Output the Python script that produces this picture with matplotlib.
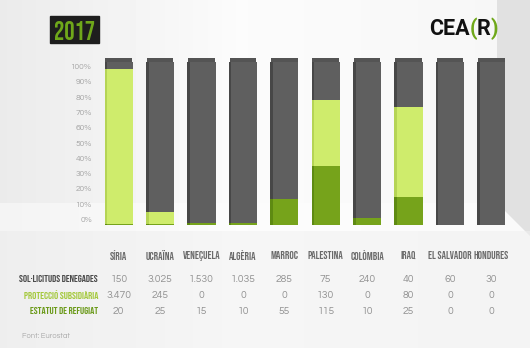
import matplotlib.pyplot as plt
import numpy as np
from matplotlib.transforms import blended_transform_factory
from matplotlib.patches import Rectangle, Polygon

countries = ['SÍRIA', 'UCRAÏNA', 'VENEÇUELA', 'ALGÈRIA', 'MARROC',
             'PALESTINA', 'COLÒMBIA', 'IRAQ', 'EL SALVADOR', 'HONDURES']
denegades = [150, 3025, 1530, 1035, 285, 75, 240, 40, 60, 30]
subsidiaria = [3470, 245, 0, 0, 0, 130, 0, 80, 0, 0]
refugiat = [20, 25, 15, 10, 55, 115, 10, 25, 0, 0]
row_labels = ['SOL·LICITUDS DENEGADES', 'PROTECCIÓ SUBSIDIÀRIA', 'ESTATUT DE REFUGIAT']
pct_ticks = [0, 10, 20, 30, 40, 50, 60, 70, 80, 90, 100]

cond = ['Bebas Neue', 'DejaVu Sans']
thin = ['Questrial', 'DejaVu Sans']
logo = ['Roboto', 'DejaVu Sans']

def fmt(v):
    return f'{v:,}'.replace(',', '.')

den = np.array(denegades, float)
sub = np.array(subsidiaria, float)
ref = np.array(refugiat, float)
tot = den + sub + ref
f_ref, f_sub, f_den = ref / tot, sub / tot, den / tot

fig = plt.figure(figsize=(5.3, 3.48), dpi=100)

# background in pixel coordinates
bg = fig.add_axes([0, 0, 1, 1])
bg.set_xlim(0, 530)
bg.set_ylim(348, 0)
bg.axis('off')
grad = np.interp(np.linspace(0, 1, 530), [0, 0.45, 1], [0.92, 0.985, 0.965])
bg.imshow(np.tile(grad, (348, 1)), cmap='gray', vmin=0, vmax=1,
          extent=[0, 530, 348, 0], aspect='auto', zorder=0)
bg.add_patch(Rectangle((0, 203), 530, 28, color='white', zorder=1, lw=0, alpha=0.45))
bg.add_patch(Polygon([[497, 0], [530, 0], [530, 236], [497, 203]],
                     color='#e1e1e1', zorder=1, lw=0))
bg.add_patch(Rectangle((0, 231), 530, 117, color='#f2f2f2', zorder=1, lw=0, alpha=0.5))

# title box
bg.add_patch(Rectangle((50, 16), 49, 27, color='#1e1e1e', zorder=3))
bg.text(74.5, 30.5, '2017', color='#6fa81a', fontsize=18.5,
        family=cond, ha='center', va='center', zorder=4)

# logo
x0 = 429
fig.canvas.draw()
rend = fig.canvas.get_renderer()
for part, col in [('CEA', '#111111'), ('(', '#6fa81a'), ('R', '#111111'), (')', '#6fa81a')]:
    t = bg.text(x0, 29, part, color=col, fontsize=15.5, fontweight='bold',
                family=logo, ha='left', va='center', zorder=4)
    x0 += t.get_window_extent(rend).width

# bars
ax = fig.add_axes([98 / 530, (348 - 225) / 348, 414 / 530, 163 / 348])
ax.set_xlim(-0.5, 9.5)
ax.set_ylim(0, 1)
ax.axis('off')
ax.patch.set_alpha(0)
x = np.arange(len(countries))
w = 0.68
ax.bar(x, f_ref, w, color='#76a31b', zorder=2)
ax.bar(x, f_sub, w, bottom=f_ref, color='#cfec6c', zorder=2)
ax.bar(x, f_den, w, bottom=f_ref + f_sub, color='#5f5f5f', zorder=2)
# fake 3d: left side shade and top cap
ax.bar(x - w / 2 + 0.03, f_ref, 0.06, color='#5e8a12', zorder=3)
ax.bar(x - w / 2 + 0.03, f_sub, 0.06, bottom=f_ref, color='#b5d455', zorder=3)
ax.bar(x - w / 2 + 0.03, f_den, 0.06, bottom=f_ref + f_sub, color='#474747', zorder=3)
ax.bar(x, 0.025, w - 0.04, bottom=1.0, color='#545454', zorder=3, clip_on=False)

# percent labels
tr = blended_transform_factory(bg.transData, ax.transData)
for p in pct_ticks:
    ax.text(92, 0.03 + 0.94 * p / 100, f'{p}%', transform=tr, ha='right',
            va='center', fontsize=6, color='#a5a5a5', family=thin)

# table
tt = blended_transform_factory(ax.transData, bg.transData)
for i, c in enumerate(countries):
    bg.text(i, 255, c, transform=tt, ha='center', va='center', fontsize=7.8,
            color='#6a6a6a', family=cond)
rows = [denegades, subsidiaria, refugiat]
row_y = [279, 295, 311]
row_colors = ['#4a4a4a', '#a4c93c', '#6b9a1a']
for lab, vals, yy, col in zip(row_labels, rows, row_y, row_colors):
    bg.text(98, yy, lab, ha='right', va='center', fontsize=7.5, color=col,
            family=cond)
    for i, v in enumerate(vals):
        bg.text(i, yy, fmt(v), transform=tt, ha='center', va='center',
                fontsize=7.5, color='#929292', family=thin)

bg.text(22, 336, 'Font: Eurostat', ha='left', va='center', fontsize=5.5,
        color='#aaaaaa', family=thin)

fig.savefig('out.png', dpi=100)
